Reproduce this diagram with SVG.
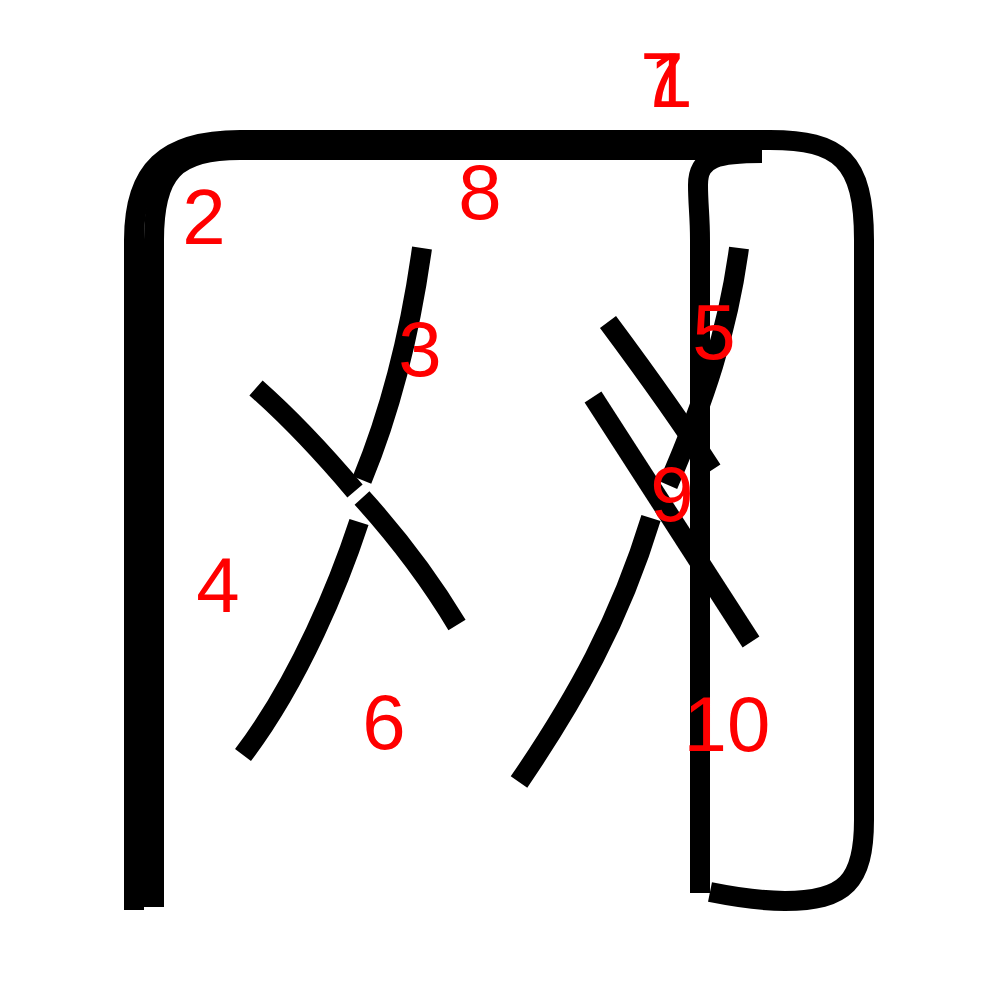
<svg xmlns="http://www.w3.org/2000/svg" width="1000" height="1000" viewBox="0 0 1000 1000">
<style>
.s{fill:none;stroke:#000;stroke-width:20;stroke-linecap:butt;stroke-linejoin:round}
.n{fill:#ff0000;font-family:"Liberation Sans",Arial,sans-serif;font-size:78px;text-anchor:middle}
</style>
<rect width="1000" height="1000" fill="#fff"/>
<g id="strokes">
<g id="s1"><path class="s" d="M134,910 L134,240 C134,170 165,140 240,140 L770,140 C840,140 864,160 864,240 L864,820 C864,882 845,901 785,901 C760,901 735,897 710,892"/></g>
<g id="s2"><path class="s" d="M154,907 L154,240 C154,172 175,150 240,150 L762,150"/></g>
<g id="s3"><path class="s" d="M422,248 C412,320 395,400 362,480"/></g>
<g id="s4"><path class="s" d="M256,388 C290,418 322,452 355,491"/></g>
<g id="s5"><path class="s" d="M362,498 C400,540 430,580 457,625"/></g>
<g id="s6"><path class="s" d="M359,522 C340,580 300,680 243,755"/></g>
<g id="s7"><path class="s" d="M762,153 C718,153 698,157 698,185 C698,205 700,215 700,240 L700,893"/></g>
<g id="s8"><path class="s" d="M739,248 C728,330 705,400 668,485"/></g>
<g id="s9"><path class="s" d="M608,322 C640,365 680,420 712,470"/></g>
<g id="s10"><path class="s" d="M593,397 L751,642"/></g>
<g id="s11"><path class="s" d="M651,518 C620,620 575,700 519,782"/></g>
</g>
<g id="labels">
<text class="n" x="662" y="107">7</text>
<text class="n" x="671" y="107">1</text>
<text class="n" x="204" y="244">2</text>
<text class="n" x="480" y="219">8</text>
<text class="n" x="420" y="376">3</text>
<text class="n" x="218" y="612">4</text>
<text class="n" x="714" y="359">5</text>
<text class="n" x="384" y="749">6</text>
<text class="n" x="672" y="521">9</text>
<text class="n" x="727" y="751">10</text>
</g>
</svg>
